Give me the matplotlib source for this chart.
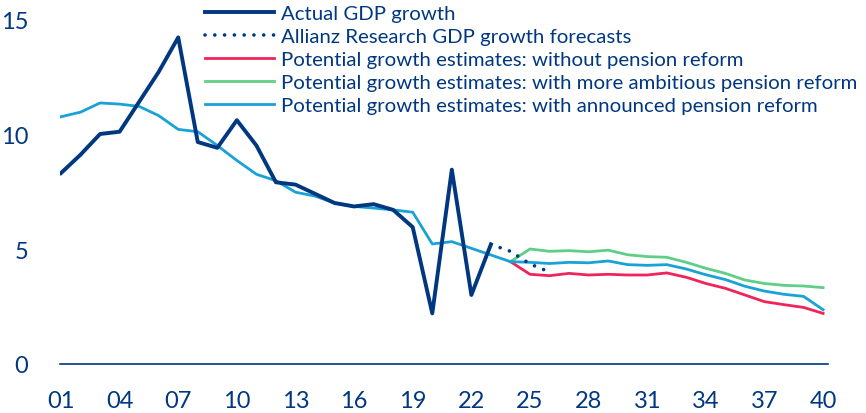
import numpy as np
import matplotlib
matplotlib.use("Agg")
import matplotlib.pyplot as plt

plt.rcParams['font.family'] = ['Lato', 'DejaVu Sans']

navy = '#003781'
red = '#F0245A'
green = '#5FCF87'
lblue = '#18A2D6'

# actual GDP growth, 2001-2023
actual_years = list(range(2001, 2024))
actual = [8.3, 9.1, 10.0, 10.1, 11.4, 12.7, 14.2, 9.65, 9.4, 10.6, 9.5, 7.9,
          7.8, 7.4, 7.0, 6.85, 6.95, 6.7, 5.95, 2.2, 8.45, 3.0, 5.2]

# Allianz Research forecasts
fc_years = [2023, 2024, 2025, 2026]
forecast = [5.2, 4.9, 4.35, 4.0]

# potential growth with announced pension reform, 2001-2040
pot_years = list(range(2001, 2041))
pot_announced = [10.75, 10.95, 11.35, 11.3, 11.2, 10.8, 10.2, 10.1, 9.5, 8.85,
                 8.25, 7.97, 7.47, 7.3, 7.0, 6.85, 6.78, 6.7, 6.6, 5.22,
                 5.32, 5.03, 4.74, 4.45, 4.42, 4.37, 4.42, 4.4, 4.48, 4.32,
                 4.29, 4.32, 4.13, 3.88, 3.67, 3.38, 3.17, 3.03, 2.94, 2.36]

# scenarios diverge from 2024
scen_years = list(range(2024, 2041))
pot_no_reform = [4.45, 3.9, 3.84, 3.94, 3.87, 3.9, 3.87, 3.87, 3.96, 3.77,
                 3.5, 3.29, 3.0, 2.71, 2.58, 2.46, 2.2]
pot_ambitious = [4.45, 5.0, 4.9, 4.93, 4.88, 4.95, 4.75, 4.67, 4.64, 4.42,
                 4.16, 3.94, 3.65, 3.5, 3.42, 3.39, 3.32]

fig = plt.figure(figsize=(8.66, 4.14), dpi=100)
ax = fig.add_axes([60/866, 49/414, 768/866, 365/414])

ax.plot(actual_years, actual, color=navy, lw=2.8, label='Actual GDP growth', zorder=5)
ax.plot(fc_years, forecast, color=navy, lw=2.6, linestyle=(0, (0.01, 2.7)),
        dash_capstyle='round', label='Allianz Research GDP growth forecasts', zorder=5)
ax.plot(scen_years, pot_no_reform, color=red, lw=2.0,
        label='Potential growth estimates: without pension reform')
ax.plot(scen_years, pot_ambitious, color=green, lw=2.0,
        label='Potential growth estimates: with more ambitious pension reform')
ax.plot(pot_years, pot_announced, color=lblue, lw=2.0,
        label='Potential growth estimates: with announced pension reform', zorder=4)

ax.set_xlim(2000.95, 2040.25)
ax.set_ylim(0, 15.87)
ax.set_xticks(range(2001, 2041, 3))
ax.set_xticklabels(['%02d' % (y % 100) for y in range(2001, 2041, 3)])
ax.set_yticks([0, 5, 10, 15])

for s in ['top', 'right', 'left']:
    ax.spines[s].set_visible(False)
ax.spines['bottom'].set_color(navy)
ax.spines['bottom'].set_linewidth(1.2)
ax.tick_params(axis='both', length=0, colors=navy, labelsize=17)
ax.tick_params(axis='x', pad=19)
ax.tick_params(axis='y', pad=23)

leg = fig.legend(loc='upper left', bbox_to_anchor=(205/866, 1.0 - 6/414), frameon=False,
                 fontsize=14.7, handlelength=3.4, handletextpad=0.34,
                 labelspacing=0.28, borderaxespad=0, borderpad=0)
for t in leg.get_texts():
    t.set_color(navy)

fig.savefig('out.png', dpi=100)
